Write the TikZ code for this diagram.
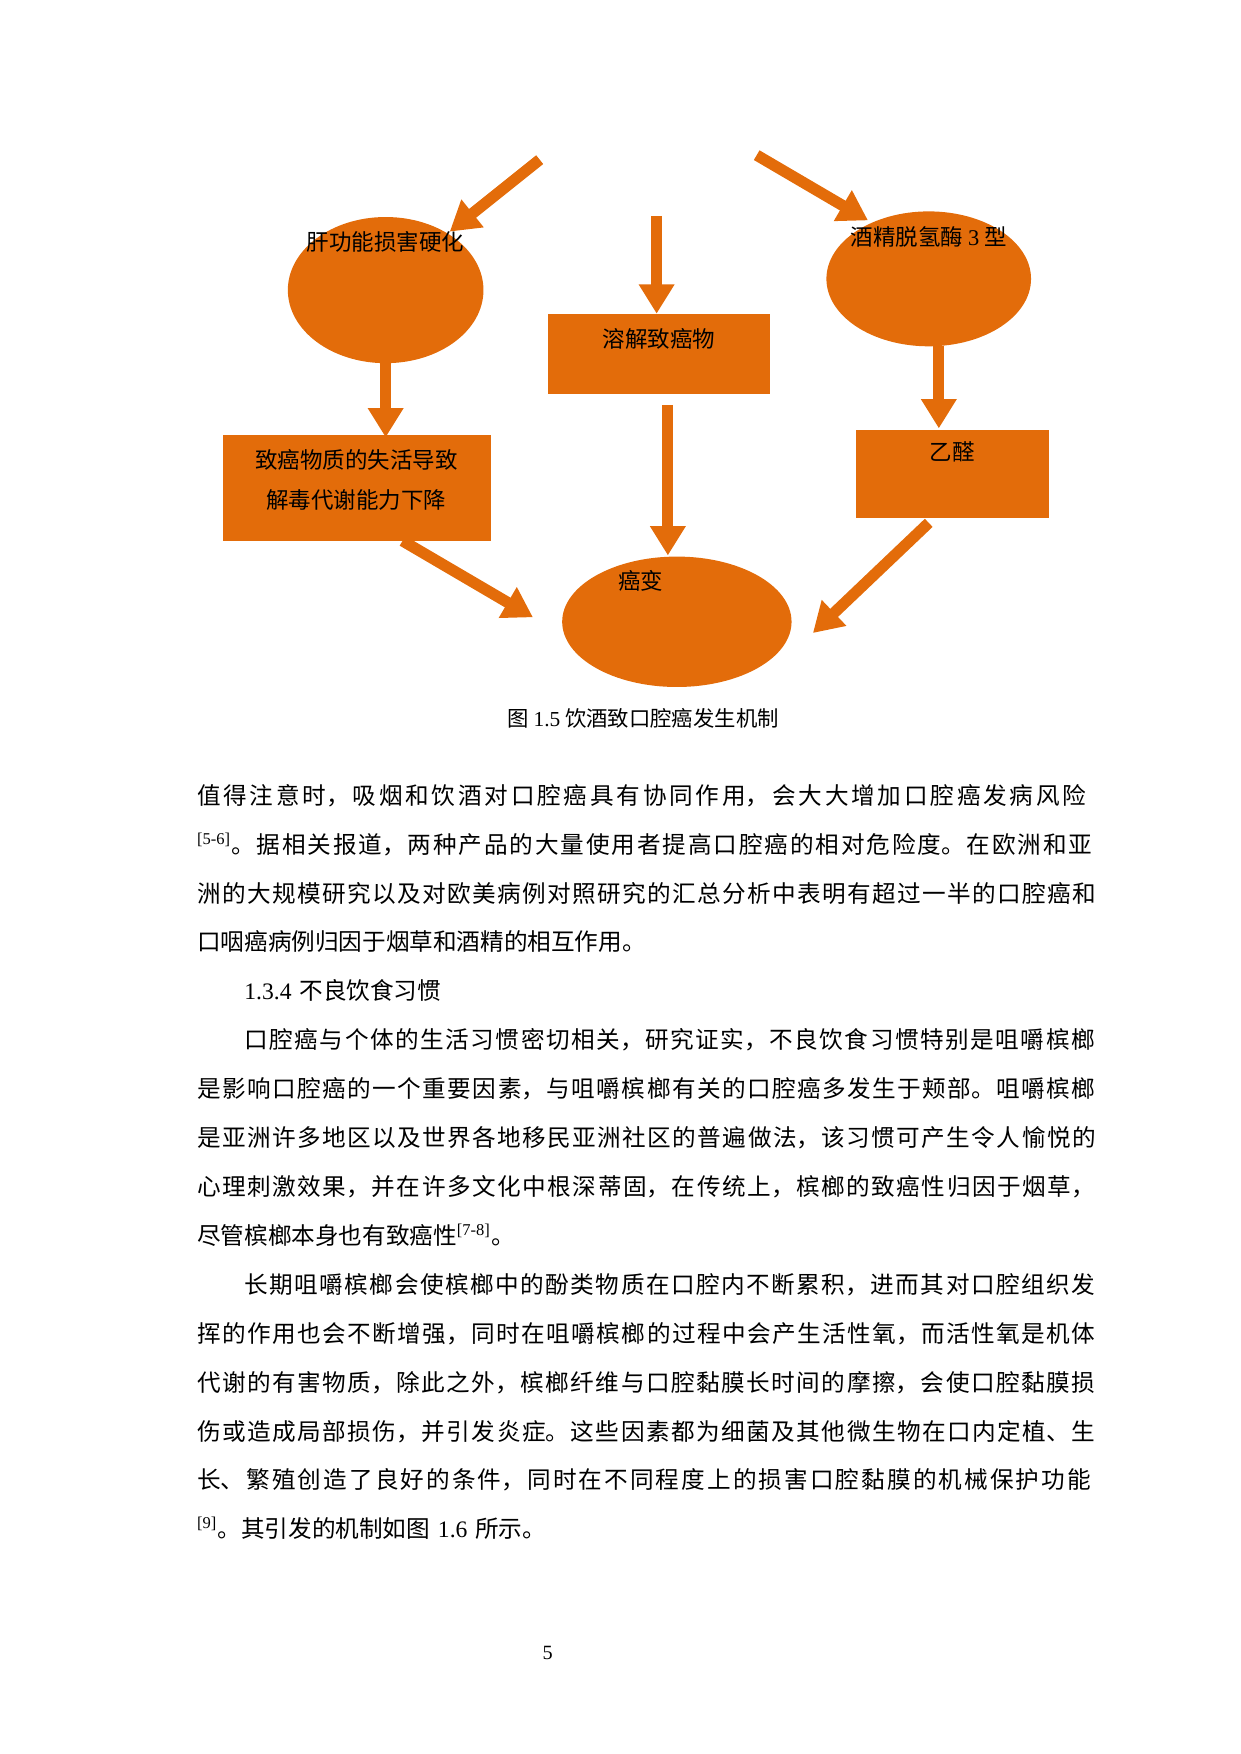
\documentclass[tikz,border=0pt]{standalone}
\usepackage{fontspec}
\setmainfont{Noto Sans CJK SC}
\newfontfamily\latf{Liberation Serif}
\newcommand{\lat}[1]{{\latf #1}}
\newcommand{\supr}[1]{\textsuperscript{\latf #1}}
\usetikzlibrary{arrows.meta,shapes.geometric}
\definecolor{og}{RGB}{227,108,10}
\tikzset{
 ell/.style={ellipse,fill=og,draw=none},
 box/.style={rectangle,fill=og,draw=none},
 lab/.style={font=\fontsize{10pt}{12pt}\selectfont,text=black},
 arr/.style={draw=og,line width=5pt,-{Triangle[length=13pt,width=15pt]}}
}
\begin{document}
\begin{tikzpicture}[x=0.5pt,y=-0.5pt]
\useasboundingbox (0,0) rectangle (1103,1560);
% shapes
\node[ell,minimum width=174\pgflinewidth*0+87pt,minimum height=65pt] (liver) at (343,258) {};
\node[box,minimum width=99pt,minimum height=35.5pt] (dis) at (586,314.5) {};
\node[ell,minimum width=91pt,minimum height=60pt] (adh) at (826,248) {};
\node[box,minimum width=119.5pt,minimum height=47pt] (inact) at (317.5,434) {};
\node[box,minimum width=86pt,minimum height=39.5pt] (ace) at (847,421.5) {};
\node[ell,minimum width=102pt,minimum height=58pt] (can) at (602,553) {};
% labels
\node[lab] (l1) at (343,215) {肝功能损害硬化};
\node[lab] (l2) at (586,301) {溶解致癌物};
\node[lab] (l3) at (826,211) {酒精脱氢酶 \lat{3} 型};
\node[lab,align=center,text width=119pt] (l4) at (317,427) {致癌物质的失活导致\\[6pt]解毒代谢能力下降};
\node[lab] (l5) at (847,402) {乙醛};
\node[lab] (l6) at (570,517) {癌变};
% arrow coordinates
\coordinate (a1s) at (480,142); \coordinate (a1e) at (400,206);
\coordinate (a2s) at (584,192); \coordinate (a2e) at (584,279);
\coordinate (a3s) at (673,138); \coordinate (a3e) at (772,196);
\coordinate (a4s) at (343,322); \coordinate (a4e) at (343,389);
\coordinate (a5s) at (594,360); \coordinate (a5e) at (594,494);
\coordinate (a6s) at (835,308); \coordinate (a6e) at (835,381);
\coordinate (a7s) at (358,481); \coordinate (a7e) at (474,549);
\coordinate (a8s) at (826,465); \coordinate (a8e) at (723,563);
\foreach \i in {1,...,8} \draw[arr] (a\i s) -- (a\i e);
% caption
\node[font=\fontsize{9.5pt}{12pt}\selectfont] (cap) at (572,639) {图 \lat{1.5} 饮酒致口腔癌发生机制};
% body
\node[anchor=north west,inner sep=0pt,text width=404pt,font=\fontsize{10.5pt}{21.75pt}\selectfont] (body) at (175,697) {%
\XeTeXlinebreaklocale "zh"\XeTeXlinebreakskip=0pt plus 3pt\emergencystretch=20pt
\parindent=21pt\parskip=0pt
值得注意时，吸烟和饮酒对口腔癌具有协同作用，会大大增加口腔癌发病风险\linebreak
\supr{[5-6]}。据相关报道，两种产品的大量使用者提高口腔癌的相对危险度。在欧洲和亚\linebreak
洲的大规模研究以及对欧美病例对照研究的汇总分析中表明有超过一半的口腔癌和\linebreak
口咽癌病例归因于烟草和酒精的相互作用。\par
\lat{1.3.4} 不良饮食习惯\par
口腔癌与个体的生活习惯密切相关，研究证实，不良饮食习惯特别是咀嚼槟榔\linebreak
是影响口腔癌的一个重要因素，与咀嚼槟榔有关的口腔癌多发生于颊部。咀嚼槟榔\linebreak
是亚洲许多地区以及世界各地移民亚洲社区的普遍做法，该习惯可产生令人愉悦的\linebreak
心理刺激效果，并在许多文化中根深蒂固，在传统上，槟榔的致癌性归因于烟草，\linebreak
尽管槟榔本身也有致癌性\supr{[7-8]}。\par
长期咀嚼槟榔会使槟榔中的酚类物质在口腔内不断累积，进而其对口腔组织发\linebreak
挥的作用也会不断增强，同时在咀嚼槟榔的过程中会产生活性氧，而活性氧是机体\linebreak
代谢的有害物质，除此之外，槟榔纤维与口腔黏膜长时间的摩擦，会使口腔黏膜损\linebreak
伤或造成局部损伤，并引发炎症。这些因素都为细菌及其他微生物在口内定植、生\linebreak
长、繁殖创造了良好的条件，同时在不同程度上的损害口腔黏膜的机械保护功能\linebreak
\supr{[9]}。其引发的机制如图 \lat{1.6} 所示。\par};
\node[font=\fontsize{9pt}{10pt}\latf] (pg) at (487,1470) {5};
\end{tikzpicture}
\end{document}
